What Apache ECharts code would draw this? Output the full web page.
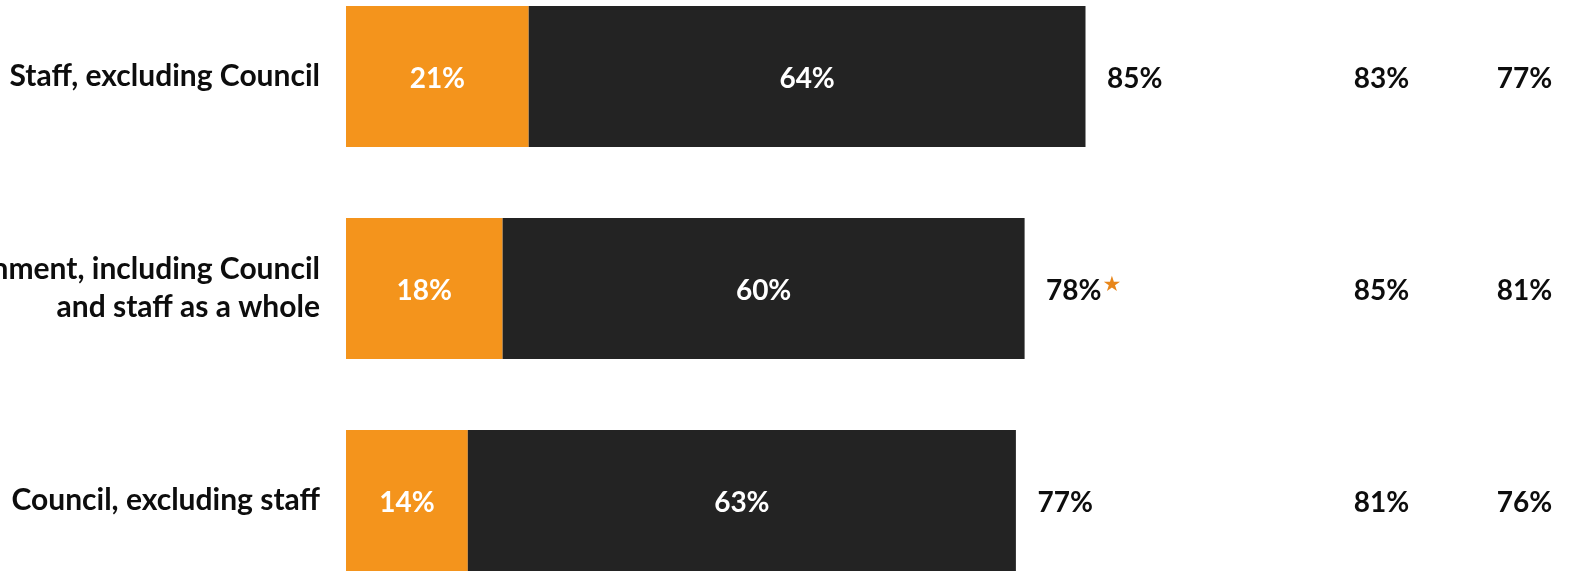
<!DOCTYPE html>
<html>
<head>
<meta charset="utf-8">
<style>
  html, body { margin: 0; padding: 0; background: #ffffff; }
  #chart { width: 1575px; height: 578px; }
</style>
<script src="https://cdn.jsdelivr.net/npm/echarts@6/dist/echarts.min.js"></script>
</head>
<body>
<div id="chart"></div>
<script>
// Rows, top to bottom
const categories = [
  'Staff, excluding Council',
  'Local government, including Council\nand staff as a whole',
  'Council, excluding staff'
];
// Stacked segments (%)
const strongPart = [21, 18, 14];
const moderatePart = [64, 60, 63];
// Combined result shown after each bar, with significance marker
const totals = [85, 78, 77];
const totalMarks = ['', '★', ''];
// Comparison columns on the right
const compareColumns = ['Earlier wave', 'First wave'];
const earlierWave = [83, 85, 81];
const firstWave = [77, 81, 76];

const FONT = 'Lato, "Open Sans", sans-serif';
const ORANGE = '#F4941C';
const DARK = '#232323';
const INK = '#0d0d0d';

const chart = echarts.init(document.getElementById('chart'), null, { renderer: 'canvas' });

const compareData = [];
categories.forEach((c, i) => {
  compareData.push([compareColumns[0], i, earlierWave[i]]);
  compareData.push([compareColumns[1], i, firstWave[i]]);
});

chart.setOption({
  backgroundColor: '#ffffff',
  animation: false,
  grid: [
    { left: 346, width: 870, top: -29.5, height: 636, containLabel: false, outerBoundsMode: 'none' },
    { left: 1310, width: 286, top: -29.5, height: 636, containLabel: false, outerBoundsMode: 'none' }
  ],
  xAxis: [
    { gridIndex: 0, type: 'value', min: 0, max: 100, show: false },
    { gridIndex: 1, type: 'category', data: compareColumns, show: false }
  ],
  yAxis: [
    {
      gridIndex: 0, type: 'category', data: categories, inverse: true,
      axisLine: { show: false }, axisTick: { show: false }, splitLine: { show: false },
      axisLabel: {
        margin: 26, color: INK, fontFamily: FONT, fontWeight: 'bold',
        fontSize: 30, lineHeight: 38, align: 'right', padding: [10, 0, 0, 0]
      }
    },
    { gridIndex: 1, type: 'category', data: categories, inverse: true, show: false }
  ],
  series: [
    {
      type: 'bar', stack: 'total', data: strongPart, barWidth: 141,
      itemStyle: { color: ORANGE },
      label: {
        show: true, position: 'inside', color: '#ffffff', fontFamily: FONT,
        fontWeight: 'bold', fontSize: 28, offset: [0, 2], formatter: p => p.value + '%'
      }
    },
    {
      type: 'bar', stack: 'total', data: moderatePart, barWidth: 141,
      itemStyle: { color: DARK },
      label: {
        show: true, position: 'inside', color: '#ffffff', fontFamily: FONT,
        fontWeight: 'bold', fontSize: 28, offset: [0, 2], formatter: p => p.value + '%'
      }
    },
    {
      type: 'scatter', data: totals.map((v, i) => [v, i]), symbolSize: 1,
      itemStyle: { color: 'rgba(0,0,0,0)', opacity: 1 },
      label: {
        show: true, position: 'right', distance: 21, opacity: 1, offset: [0, 2],
        formatter: p => '{v|' + p.value[0] + '%}' + (totalMarks[p.dataIndex] ? '{s|' + totalMarks[p.dataIndex] + '}' : ''),
        rich: {
          v: { color: INK, fontFamily: FONT, fontWeight: 'bold', fontSize: 28, lineHeight: 30 },
          s: { color: '#E8861A', fontFamily: '"DejaVu Sans"', fontSize: 21, verticalAlign: 'top', lineHeight: 24, padding: [0, 0, 0, 1] }
        }
      }
    },
    {
      type: 'scatter', xAxisIndex: 1, yAxisIndex: 1, data: compareData, symbolSize: 1,
      itemStyle: { color: 'rgba(0,0,0,0)', opacity: 1 },
      label: {
        show: true, position: 'inside', color: INK, opacity: 1, fontFamily: FONT,
        fontWeight: 'bold', fontSize: 28, offset: [0, 2], formatter: p => p.value[2] + '%'
      }
    }
  ]
});
</script>
</body>
</html>
